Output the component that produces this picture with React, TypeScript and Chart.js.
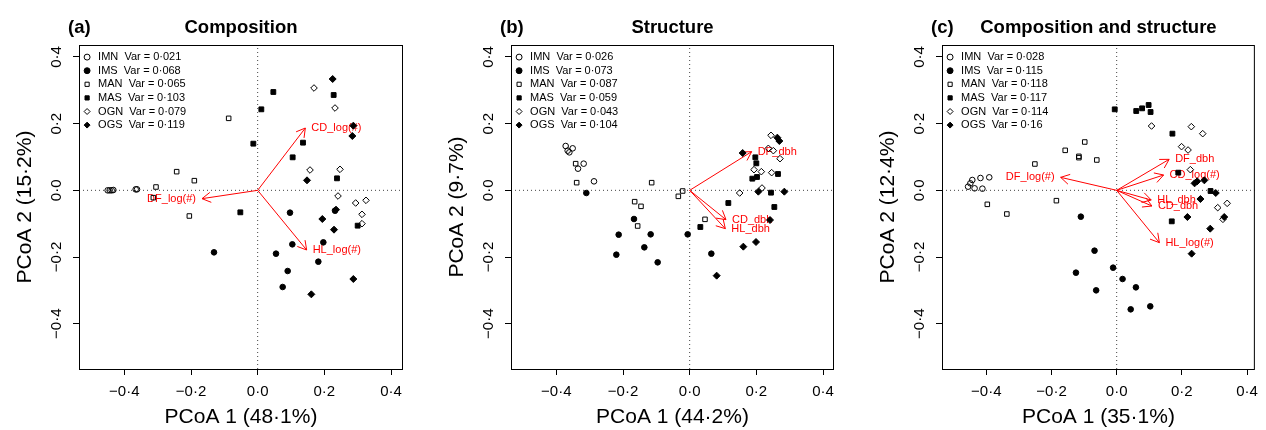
import React, { useEffect, useRef } from 'react';
import { Chart, registerables } from 'chart.js';

Chart.register(...registerables);

const FONT = '"Liberation Sans", Arial, Helvetica, sans-serif';
const RED = '#ff0000';

// ---------- labels ----------
const GROUPS = ['IMN', 'IMS', 'MAN', 'MAS', 'OGN', 'OGS'];
const TICK_VALUES = [-0.4, -0.2, 0, 0.2, 0.4];
const TICK_LABELS = ['−0·4', '−0·2', '0·0', '0·2', '0·4'];
const PANEL_LETTERS = ['(a)', '(b)', '(c)'];
const PANEL_TITLES = ['Composition', 'Structure', 'Composition and structure'];
const X_TITLES = ['PCoA 1 (48·1%)', 'PCoA 1 (44·2%)', 'PCoA 1 (35·1%)'];
const Y_TITLES = ['PCoA 2 (15·2%)', 'PCoA 2 (9·7%)', 'PCoA 2 (12·4%)'];

// ---------- group variances ----------
const VAR_A = [0.021, 0.068, 0.065, 0.103, 0.079, 0.119];
const VAR_B = [0.026, 0.073, 0.087, 0.059, 0.043, 0.104];
const VAR_C = [0.028, 0.115, 0.118, 0.117, 0.114, 0.16];

// ---------- panel (a) Composition ----------
const A_IMN = [[-0.450, 0.0], [-0.444, 0.0], [-0.438, 0.0], [-0.433, 0.001], [-0.366, 0.003], [-0.362, 0.003]];
const A_IMS = [[-0.131, -0.186], [0.097, -0.067], [0.104, -0.162], [0.055, -0.190], [0.090, -0.242], [0.075, -0.290], [0.182, -0.214], [0.197, -0.156], [0.232, -0.061]];
const A_MAN = [[-0.087, 0.216], [-0.243, 0.056], [-0.190, 0.029], [-0.305, 0.010], [-0.313, -0.022], [-0.205, -0.077]];
const A_MAS = [[0.047, 0.295], [0.011, 0.243], [-0.013, 0.140], [0.136, 0.143], [0.105, 0.099], [-0.052, -0.066], [0.228, 0.286], [0.238, 0.036], [0.300, -0.106]];
const A_OGN = [[0.169, 0.307], [0.232, 0.247], [0.157, 0.061], [0.247, 0.063], [0.241, -0.017], [0.294, -0.038], [0.325, -0.030], [0.313, -0.072], [0.313, -0.100]];
const A_OGS = [[0.225, 0.334], [0.287, 0.194], [0.284, 0.163], [0.148, 0.030], [0.235, -0.058], [0.194, -0.086], [0.229, -0.118], [0.287, -0.266], [0.161, -0.312]];
const A_ARROWS = [[0.143, 0.187], [0.147, -0.179], [-0.167, -0.025]];
const A_ARROW_NAMES = ['CD_log(#)', 'HL_log(#)', 'DF_log(#)'];

// ---------- panel (b) Structure ----------
const B_IMN = [[-0.372, 0.133], [-0.366, 0.119], [-0.361, 0.114], [-0.351, 0.126], [-0.335, 0.065], [-0.318, 0.080], [-0.287, 0.027]];
const B_IMS = [[-0.310, -0.008], [-0.167, -0.086], [-0.213, -0.133], [-0.220, -0.193], [-0.136, -0.171], [-0.117, -0.132], [-0.096, -0.216], [-0.006, -0.132], [0.065, -0.190]];
const B_MAN = [[-0.342, 0.080], [-0.339, 0.023], [-0.114, 0.023], [-0.165, -0.034], [-0.146, -0.048], [-0.156, -0.107], [-0.034, -0.018], [-0.021, -0.002], [0.046, -0.087]];
const B_MAS = [[0.032, -0.110], [0.116, -0.038], [0.197, 0.099], [0.200, 0.081], [0.188, 0.035], [0.202, 0.040], [0.265, 0.049], [0.244, -0.007], [0.254, -0.050]];
const B_OGN = [[0.244, 0.165], [0.236, 0.126], [0.251, 0.119], [0.271, 0.095], [0.193, 0.062], [0.215, 0.056], [0.246, 0.053], [0.217, 0.007], [0.150, -0.008]];
const B_OGS = [[0.159, 0.112], [0.263, 0.158], [0.269, 0.148], [0.206, -0.004], [0.284, -0.004], [0.241, -0.089], [0.161, -0.169], [0.199, -0.155], [0.081, -0.256]];
const B_ARROWS = [[0.186, 0.116], [0.109, -0.088], [0.107, -0.115]];
const B_ARROW_NAMES = ['DF_dbh', 'CD_dbh', 'HL_dbh'];

// ---------- panel (c) Composition and structure ----------
const C_IMN = [[-0.456, 0.011], [-0.449, 0.021], [-0.443, 0.031], [-0.436, 0.006], [-0.418, 0.037], [-0.412, 0.005], [-0.391, 0.039]];
const C_IMS = [[-0.110, -0.079], [-0.068, -0.181], [-0.125, -0.247], [-0.063, -0.300], [-0.011, -0.232], [0.018, -0.266], [0.059, -0.291], [0.043, -0.357], [0.103, -0.348]];
const C_MAN = [[-0.397, -0.042], [-0.337, -0.071], [-0.251, 0.079], [-0.158, 0.120], [-0.116, 0.098], [-0.116, 0.102], [-0.098, 0.145], [-0.061, 0.091], [-0.185, -0.031]];
const C_MAS = [[-0.006, 0.243], [0.060, 0.238], [0.078, 0.246], [0.098, 0.256], [0.104, 0.235], [0.171, 0.170], [0.189, 0.053], [0.288, -0.002], [0.169, -0.093]];
const C_OGN = [[0.107, 0.193], [0.229, 0.191], [0.264, 0.170], [0.199, 0.131], [0.219, 0.121], [0.226, 0.062], [0.310, -0.052], [0.339, -0.039], [0.326, -0.087]];
const C_OGS = [[0.239, 0.021], [0.247, 0.027], [0.269, 0.030], [0.304, -0.008], [0.257, -0.026], [0.217, -0.080], [0.330, -0.080], [0.287, -0.115], [0.230, -0.190]];
const C_ARROWS = [[0.161, 0.093], [0.144, 0.046], [-0.172, 0.039], [0.106, -0.029], [0.108, -0.047], [0.131, -0.157]];
const C_ARROW_NAMES = ['DF_dbh', 'CD_log(#)', 'DF_log(#)', 'HL_dbh', 'CD_dbh', 'HL_log(#)'];

// ---------- axis ranges ----------
const Y_RANGE = [-0.536, 0.436];
const X_RANGES = [[-0.536, 0.436], [-0.536, 0.433], [-0.536, 0.424]];

// ---------- marker styles (pch 1, 16, 0, 15, 5, 18) ----------
const MARKS = [
  { style: 'circle', fill: false, r: 2.8 },
  { style: 'circle', fill: true, r: 2.8 },
  { style: 'rect', fill: false, r: 3.2 },
  { style: 'rect', fill: true, r: 3.4 },
  { style: 'rectRot', fill: false, r: 3.3 },
  { style: 'rectRot', fill: true, r: 3.5 },
];

const PANELS = [
  { pts: [A_IMN, A_IMS, A_MAN, A_MAS, A_OGN, A_OGS], vars: VAR_A, arrows: A_ARROWS, names: A_ARROW_NAMES },
  { pts: [B_IMN, B_IMS, B_MAN, B_MAS, B_OGN, B_OGS], vars: VAR_B, arrows: B_ARROWS, names: B_ARROW_NAMES },
  { pts: [C_IMN, C_IMS, C_MAN, C_MAS, C_OGN, C_OGS], vars: VAR_C, arrows: C_ARROWS, names: C_ARROW_NAMES },
];

// layout (pixels)
const CANVAS_LEFT = [0, 432, 863];
const CANVAS_W = [432, 431, 403];
const PLOT_W = [324, 323, 320];
const PLOT_LEFT = 79;
const PLOT_TOP = 45;
const CANVAS_H = 430;
const XAXIS_H = 61;

const fmt = (v: number) => String(v).replace('.', '·');

function buildChart(canvas: HTMLCanvasElement, p: number) {
  const panel = PANELS[p];
  const [xmin, xmax] = X_RANGES[p];
  const datasets: any[] = [];
  GROUPS.forEach((g, i) => {
    const m = MARKS[i];
    const bg = m.fill ? '#000' : 'rgba(0,0,0,0)';
    datasets.push({
      label: `${g}  Var = ${fmt(panel.vars[i])}`,
      data: panel.pts[i].map(([x, y]) => ({ x, y })),
      pointStyle: m.style,
      pointRadius: m.r,
      pointHoverRadius: m.r,
      backgroundColor: bg,
      pointBackgroundColor: bg,
      borderColor: '#000',
      pointBorderColor: '#000',
      borderWidth: 1,
      pointBorderWidth: 1,
      showLine: false,
      order: 0,
    });
  });
  // dotted zero lines
  datasets.push({
    label: 'h0',
    data: [{ x: xmin, y: 0 }, { x: xmax, y: 0 }],
    showLine: true, pointRadius: 0, borderColor: '#444', borderWidth: 1, borderDash: [1, 3], order: 3,
  });
  datasets.push({
    label: 'v0',
    data: [{ x: 0, y: Y_RANGE[0] }, { x: 0, y: Y_RANGE[1] }],
    showLine: true, pointRadius: 0, borderColor: '#444', borderWidth: 1, borderDash: [1, 3], order: 3,
  });
  // arrow shafts
  panel.arrows.forEach(([ax, ay], i) => {
    datasets.push({
      label: panel.names[i],
      data: [{ x: 0, y: 0 }, { x: ax, y: ay }],
      showLine: true, pointRadius: 0, borderColor: RED, borderWidth: 1, order: 2,
    });
  });

  const decor = {
    id: 'decor',
    afterLayout(chart: any) {
      if (chart.legend) {
        const ca = chart.chartArea;
        chart.legend.top = ca.top;
        chart.legend.bottom = ca.bottom;
      }
    },
    beforeDatasetsDraw(chart: any) {
      const { ctx, scales } = chart;
      const xs = scales.x, ys = scales.y;
      const ox = xs.getPixelForValue(0), oy = ys.getPixelForValue(0);
      ctx.save();
      ctx.strokeStyle = RED;
      ctx.fillStyle = RED;
      ctx.lineWidth = 1;
      const L = 10, A = Math.PI / 6;
      panel.arrows.forEach(([ax, ay], i) => {
        const px = xs.getPixelForValue(ax), py = ys.getPixelForValue(ay);
        const ang = Math.atan2(py - oy, px - ox);
        ctx.beginPath();
        [-1, 1].forEach((s) => {
          ctx.moveTo(px, py);
          ctx.lineTo(px - L * Math.cos(ang + s * A), py - L * Math.sin(ang + s * A));
        });
        ctx.stroke();
        ctx.font = `11px ${FONT}`;
        ctx.textBaseline = 'middle';
        ctx.textAlign = ax >= 0 ? 'left' : 'right';
        ctx.fillText(panel.names[i], px + (ax >= 0 ? 6 : -6), py);
      });
      ctx.restore();
    },
    afterDraw(chart: any) {
      const { ctx, chartArea: ca } = chart;
      ctx.save();
      ctx.strokeStyle = '#000';
      ctx.lineWidth = 1;
      ctx.strokeRect(ca.left + 0.5, ca.top + 0.5, ca.right - ca.left - 1, ca.bottom - ca.top);
      ctx.fillStyle = '#000';
      ctx.font = `bold 18.5px ${FONT}`;
      ctx.textBaseline = 'alphabetic';
      ctx.textAlign = 'left';
      ctx.fillText(PANEL_LETTERS[p], ca.left - 11, 33);
      ctx.textAlign = 'center';
      ctx.fillText(PANEL_TITLES[p], (ca.left + ca.right) / 2, 33);
      ctx.restore();
    },
  };

  const tickOpts = {
    font: { size: 15, family: FONT },
    color: '#000',
    autoSkip: false,
    callback: (_v: any, idx: number) => TICK_LABELS[idx],
  };
  const gridOpts = {
    drawOnChartArea: false,
    drawTicks: true,
    tickLength: 6,
    tickColor: '#000',
    tickWidth: 1,
  };

  return new Chart(canvas, {
    type: 'scatter',
    data: { datasets },
    options: {
      responsive: false,
      animation: false,
      devicePixelRatio: 1,
      events: [],
      layout: { padding: { left: 0, top: PLOT_TOP, right: CANVAS_W[p] - PLOT_LEFT - PLOT_W[p], bottom: 0 } },
      plugins: {
        tooltip: { enabled: false },
        legend: {
          display: true,
          position: 'chartArea',
          align: 'start',
          title: { display: true, text: ' ', font: { size: 4, lineHeight: 1 }, padding: 0 },
          labels: {
            usePointStyle: true,
            boxHeight: 4.2,
            boxWidth: 11,
            padding: 2.6,
            color: '#000',
            font: { size: 11, family: FONT },
            filter: (item: any) => item.datasetIndex < 6,
          },
        },
      },
      scales: {
        x: {
          type: 'linear',
          position: 'bottom',
          min: xmin,
          max: xmax,
          afterBuildTicks: (s: any) => { s.ticks = TICK_VALUES.map((v) => ({ value: v })); },
          afterFit: (s: any) => { s.height = XAXIS_H; },
          ticks: { ...tickOpts, padding: 8, maxRotation: 0, minRotation: 0 },
          grid: gridOpts,
          border: { display: false },
          title: { display: true, text: X_TITLES[p], color: '#000', font: { size: 21, family: FONT }, padding: { top: 0, bottom: 0 } },
        },
        y: {
          type: 'linear',
          position: 'left',
          min: Y_RANGE[0],
          max: Y_RANGE[1],
          afterBuildTicks: (s: any) => { s.ticks = TICK_VALUES.map((v) => ({ value: v })); },
          afterFit: (s: any) => { s.width = PLOT_LEFT; },
          ticks: { ...tickOpts, padding: 1, minRotation: 90, maxRotation: 90, crossAlign: 'center' },
          grid: gridOpts,
          border: { display: false },
          title: { display: true, text: Y_TITLES[p], color: '#000', font: { size: 21, family: FONT }, padding: { top: 13, bottom: 0 } },
        },
      },
    } as any,
    plugins: [decor],
  } as any);
}

function Panel({ index }: { index: number }) {
  const ref = useRef<HTMLCanvasElement | null>(null);
  useEffect(() => {
    if (!ref.current) return;
    const chart = buildChart(ref.current, index);
    return () => chart.destroy();
  }, [index]);
  return (
    <canvas
      ref={ref}
      width={CANVAS_W[index]}
      height={CANVAS_H}
      style={{ position: 'absolute', left: CANVAS_LEFT[index], top: 0, width: CANVAS_W[index], height: CANVAS_H, display: 'block' }}
    />
  );
}

export default function App() {
  return (
    <div style={{ position: 'absolute', left: 0, top: 0, width: 1266, height: 430, background: '#fff', overflow: 'hidden' }}>
      {[0, 1, 2].map((i) => <Panel key={i} index={i} />)}
    </div>
  );
}
